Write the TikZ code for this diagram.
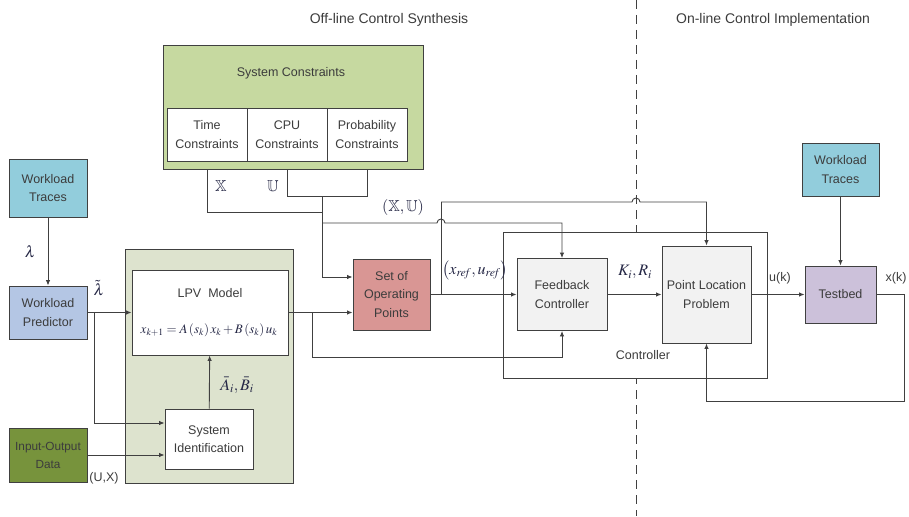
\documentclass[tikz,border=0pt]{standalone}
\usepackage{amsmath,amssymb}
\usepackage{mathptmx}
\usepackage[no-math]{fontspec}
\setmainfont{Liberation Sans}
\usepackage{xcolor}
\usetikzlibrary{arrows.meta,calc}
\definecolor{lgray}{RGB}{64,64,64}
\definecolor{tgray}{RGB}{60,60,60}
\definecolor{mathc}{RGB}{38,40,70}
\definecolor{cgreen}{RGB}{198,217,160}
\definecolor{lgreen}{RGB}{221,227,206}
\definecolor{ctrace}{RGB}{146,205,220}
\definecolor{cpred}{RGB}{180,198,228}
\definecolor{cdata}{RGB}{119,147,60}
\definecolor{cop}{RGB}{217,150,148}
\definecolor{cbox}{RGB}{242,242,242}
\definecolor{ctest}{RGB}{204,193,218}
\tikzset{
  blk/.style={draw=lgray, line width=0.9pt, inner sep=0pt, align=center,
    font=\fontsize{12.5}{18.5}\selectfont, text=tgray},
  conn/.style={draw=lgray, line width=0.9pt},
  arr/.style={conn, -{Latex[length=5.5pt,width=4.5pt]}},
  mlbl/.style={font=\fontsize{16}{18}\selectfont, text=mathc, inner sep=0pt},
  slbl/.style={font=\fontsize{12.5}{15}\selectfont, text=tgray, inner sep=0pt},
  ttl/.style={font=\fontsize{14}{16}\selectfont, text=tgray, inner sep=0pt}
}

\begin{document}
\begin{tikzpicture}[x=1pt, y=-1pt]
  \useasboundingbox (0,0) rectangle (909,516);

  % split between the two phases
  \draw[draw=lgray, line width=0.8pt, dash pattern=on 9pt off 6pt] (636,0) -- (636,516);
  \node[ttl] (offl) at (389,20) {Off-line Control Synthesis};
  \node[ttl] (onl) at (773,20) {On-line Control Implementation};

  % constraints
  \node[blk, fill=cgreen, minimum width=260pt, minimum height=124pt] (sysc) at (293,107) {};
  \node[slbl] (sysct) at (291,73) {System Constraints};
  \node[blk, fill=white, minimum width=80pt, minimum height=53pt] (tcon) at (207,134.5) {Time\\Constraints};
  \node[blk, fill=white, minimum width=80pt, minimum height=53pt] (ccon) at (287,134.5) {CPU\\Constraints};
  \node[blk, fill=white, minimum width=80pt, minimum height=53pt] (pcon) at (367,134.5) {Probability\\Constraints};

  % left column
  \node[blk, fill=ctrace, minimum width=78pt, minimum height=58pt] (wtl) at (48,188) {Workload\\Traces};
  \node[blk, fill=cpred, minimum width=78pt, minimum height=53pt] (wp) at (48,312.5) {Workload\\Predictor};
  \node[blk, fill=cdata, minimum width=78pt, minimum height=54pt, font=\fontsize{11.8}{18}\selectfont] (iod) at (48,455) {Input-Output\\Data};

  % modelling
  \node[blk, fill=lgreen, minimum width=168pt, minimum height=234pt] (lpvo) at (209,366) {};
  \node[blk, fill=white, minimum width=156pt, minimum height=85pt] (lpv) at (210,312.5) {};
  \node[slbl] (lpvt) at (210,293) {LPV\ \ Model};
  \node[mlbl, font=\fontsize{13}{15}\selectfont] (lpveq) at (209,330)
    {$x_{k+1}=A\left(s_k\right)x_k+B\left(s_k\right)u_k$};
  \node[blk, fill=white, minimum width=88pt, minimum height=60pt] (sysid) at (209,439) {System\\Identification};

  \node[blk, fill=cop, minimum width=77pt, minimum height=71pt] (sop) at (391.5,294.5) {Set of\\Operating\\Points};

  % controller
  \node[blk, fill=white, minimum width=264pt, minimum height=146pt] (ctrl) at (635,305) {};
  \node[slbl] (ctrlt) at (643,355) {Controller};
  \node[blk, fill=cbox, minimum width=90pt, minimum height=72pt] (fc) at (562,294.5) {Feedback\\Controller};
  \node[blk, fill=cbox, minimum width=89pt, minimum height=97pt] (plp) at (706.5,294.5) {Point Location\\Problem};

  % plant
  \node[blk, fill=ctest, minimum width=71pt, minimum height=57pt] (tb) at (840.5,294.5) {Testbed};
  \node[blk, fill=ctrace, minimum width=77pt, minimum height=53pt] (wtr) at (840.5,169.5) {Workload\\Traces};

  % constraint sets
  \coordinate (uj) at (322,196);
  \coordinate (xj) at (322,212);
  \coordinate (xu) at (322,223);
  \draw[conn] (tcon |- sysc.south) |- (xj);
  \draw[conn] (ccon |- sysc.south) |- (pcon |- uj) -- (pcon |- sysc.south);
  \node[mlbl] (xlbl) at (221,186) {$\mathbb{X}$};
  \node[mlbl] (ulbl) at (273,186) {$\mathbb{U}$};
  \draw[arr] (uj) |- ([yshift=17.5pt]sop.west);
  \draw[arr] (xu) -- (437,223) arc[start angle=180, end angle=0, radius=4pt] -| (fc.north);
  \node[mlbl] (xulbl) at (403,207) {$\left(\mathbb{X},\mathbb{U}\right)$};

  % left flow
  \draw[arr] (wtl) -- (wp) node[mlbl, midway, left=12pt] (lam) {$\lambda$};
  \draw[arr] (wp.east) -- (wp.east -| lpv.west);
  \node[mlbl] (lamt) at (99,288) {$\tilde{\lambda}$};
  \path (wp.east) ++(7,0) coordinate (wpj);
  \draw[arr] (wpj) |- ([yshift=16pt]sysid.west);
  \draw[arr] (iod.east) -- (iod.east -| sysid.west);
  \node[slbl] (uxlbl) at (104,478) {(U,X)};
  \draw[arr] (sysid) -- (lpv);
  \node[mlbl] (ablbl) at (237,385) {$\bar{A}_i,\bar{B}_i$};

  % model to controller
  \draw[arr] (lpv.east) -- (lpv.east -| sop.west);
  \path (lpv.east) ++(24,0) coordinate (lpvj);
  \draw[arr] (lpvj) -- ++(0,44.5) -| (fc.south);
  \draw[arr] (sop) -- (fc);
  \node[mlbl] (reflbl) at (475,270) {$\left(x_{\mathit{ref}},u_{\mathit{ref}}\right)$};
  \path (sop.east) ++(11,0) coordinate (sopj);
  \draw[arr] (sopj) -- ++(0,-92.5) -- (632,202) arc[start angle=180, end angle=0, radius=4pt] -| (plp.north);

  % online loop
  \draw[arr] (fc) -- (plp);
  \node[mlbl] (krlbl) at (635,272) {$K_i,R_i$};
  \draw[arr] (plp) -- (tb);
  \node[slbl] (uklbl) at (780,278) {u(k)};
  \draw[arr] (wtr) -- (tb);
  \node[slbl] (xklbl) at (896,278) {x(k)};
  \draw[arr] (tb.east) -- ++(28,0) -- ++(0,106.5) -| (plp.south);
\end{tikzpicture}
\end{document}
